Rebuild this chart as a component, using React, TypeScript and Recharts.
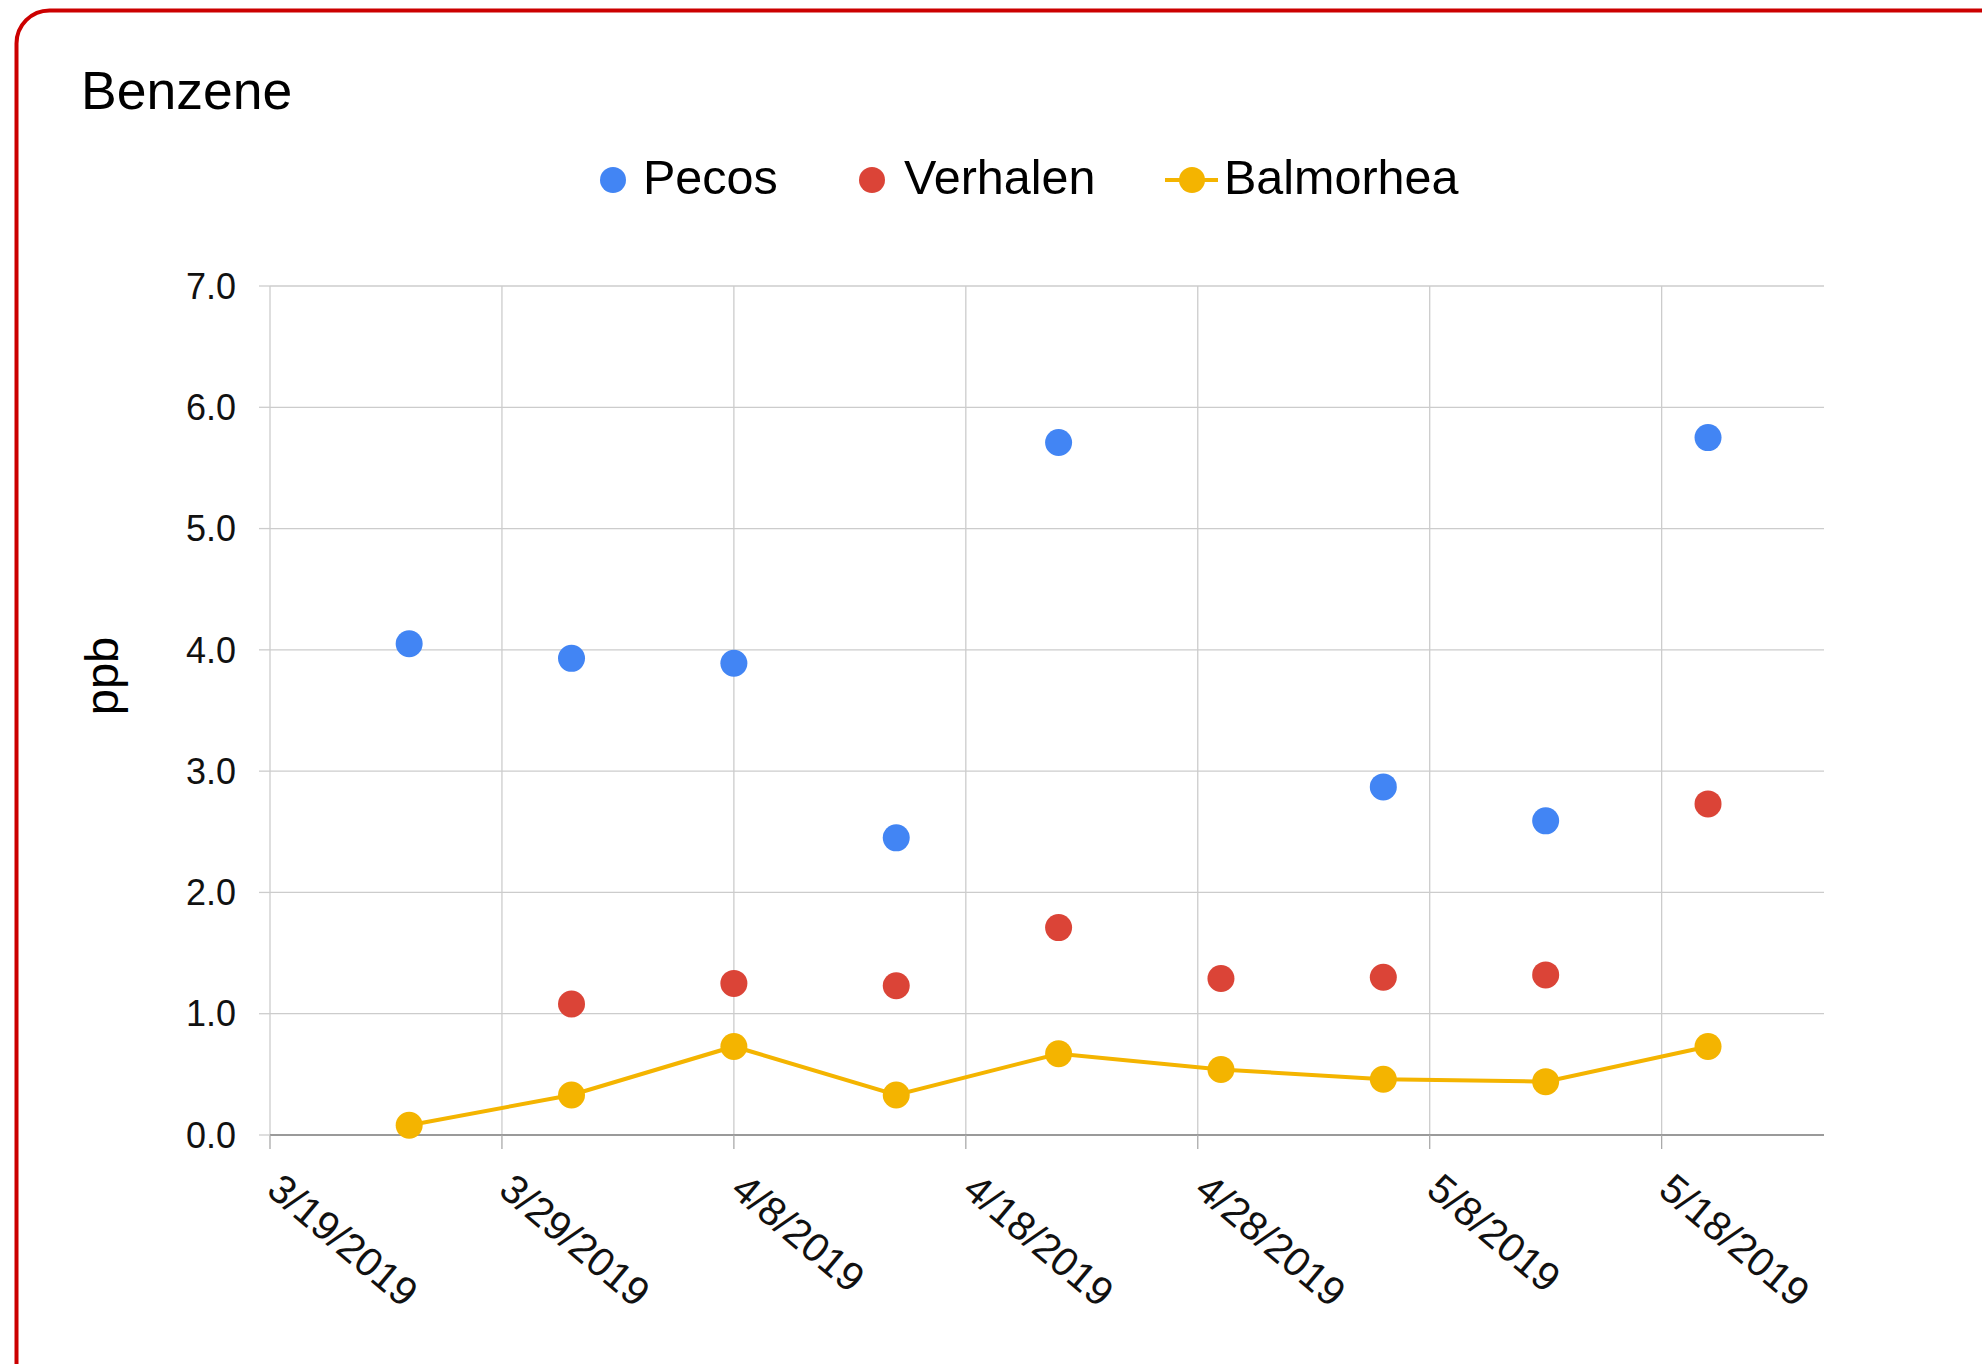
import React from 'react';
import { ComposedChart, Line, XAxis, YAxis, CartesianGrid, Legend } from 'recharts';

// ---- data ----
const sampleDates = ['3/25/2019', '4/1/2019', '4/8/2019', '4/15/2019', '4/22/2019', '4/29/2019', '5/6/2019', '5/13/2019', '5/20/2019'];
const pecos = [4.05, 3.93, 3.89, 2.45, 5.71, null, 2.87, 2.59, 5.75];
const verhalen = [null, 1.08, 1.25, 1.23, 1.71, 1.29, 1.3, 1.32, 2.73];
const balmorhea = [0.08, 0.33, 0.73, 0.33, 0.67, 0.54, 0.46, 0.44, 0.73];
const xTickDates = ['3/19/2019', '3/29/2019', '4/8/2019', '4/18/2019', '4/28/2019', '5/8/2019', '5/18/2019'];
const xDomainDates = ['3/19/2019', '5/25/2019'];
const yTicks = [0, 1, 2, 3, 4, 5, 6, 7];
const seriesNames = ['Pecos', 'Verhalen', 'Balmorhea'];
const seriesColors = ['#4285f4', '#db4437', '#f4b400'];

// ---- helpers ----
const DAY = 86400000;
const toMs = (s: string) => {
  const [m, d, y] = s.split('/').map(Number);
  return Date.UTC(y, m - 1, d);
};
const base = toMs(xDomainDates[0]);
const toDay = (s: string) => Math.round((toMs(s) - base) / DAY);
const fmtDay = (v: number) => {
  const dt = new Date(base + v * DAY);
  return `${dt.getUTCMonth() + 1}/${dt.getUTCDate()}/${dt.getUTCFullYear()}`;
};

const data = sampleDates.map((s, i) => ({
  t: toDay(s),
  pecos: pecos[i],
  verhalen: verhalen[i],
  balmorhea: balmorhea[i],
}));
const xTicks = xTickDates.map(toDay);
const xDomain = xDomainDates.map(toDay);

const W = 1982;
const H = 1364;
const FONT = '"Liberation Sans", Arial, sans-serif';
const MARGIN = { top: 286, right: 158, left: 210, bottom: 29 };
const Y_AXIS_W = 60;

const XTick = (props: any) => {
  const { x, y, payload } = props;
  const px = x - 5;
  const py = y + 44;
  return (
    <text
      x={px}
      y={py}
      transform={`rotate(40 ${px} ${py})`}
      textAnchor="start"
      fontSize={40.5}
      fontFamily={FONT}
      fill="#111"
    >
      {fmtDay(payload.value)}
    </text>
  );
};

const legendLayout = [
  { dot: 613, text: 643 },
  { dot: 872, text: 904 },
  { dot: 1192, text: 1224, line: [1165, 1218] },
];

const renderLegend = () => (
  <svg width={W} height={240} style={{ position: 'absolute', left: 0, top: 0, overflow: 'visible' }}>
    {seriesNames.map((name, i) => {
      const l = legendLayout[i];
      return (
        <g key={name}>
          {l.line ? (
            <line x1={l.line[0]} x2={l.line[1]} y1={180} y2={180} stroke={seriesColors[i]} strokeWidth={4} />
          ) : null}
          <circle cx={l.dot} cy={180} r={13} fill={seriesColors[i]} />
          <text x={l.text} y={194} fontSize={48.5} fontFamily={FONT} fill="#000">
            {name}
          </text>
        </g>
      );
    })}
  </svg>
);

const PpbLabel = (props: any) => {
  const vb = props.viewBox || {};
  const x = (vb.x ?? 210) + (vb.width ?? 60) - 152;
  const y = 676;
  return (
    <text x={x} y={y} transform={`rotate(-90 ${x} ${y})`} textAnchor="middle" fontSize={47} fontFamily={FONT} fill="#000">
      ppb
    </text>
  );
};

const verticalGen = (props: any) => {
  const xAxis = props && props.xAxis;
  if (xAxis && typeof xAxis.scale === 'function') {
    return xTicks.map((t) => xAxis.scale(t));
  }
  const left = MARGIN.left + Y_AXIS_W;
  const w = W - left - MARGIN.right;
  return xTicks.map((t) => left + ((t - xDomain[0]) / (xDomain[1] - xDomain[0])) * w);
};

export default function App() {
  return (
    <div style={{ position: 'absolute', left: 0, top: 0, width: W, height: H, overflow: 'hidden', background: '#fff' }}>
      <svg width={W} height={H} style={{ position: 'absolute', left: 0, top: 0 }}>
        <rect x={16.5} y={10.5} width={3000} height={3000} rx={33} ry={33} fill="none" stroke="#cc0000" strokeWidth={4} />
        <text x={81} y={109} fontSize={53.5} fontFamily={FONT} fill="#000">
          Benzene
        </text>
      </svg>
      <div style={{ position: 'absolute', left: 0, top: 0 }}>
        <ComposedChart width={W} height={H} data={data} margin={MARGIN}>
          <CartesianGrid stroke="#cccccc" strokeWidth={1.3} verticalCoordinatesGenerator={verticalGen} />
          <XAxis
            type="number"
            dataKey="t"
            domain={xDomain}
            ticks={xTicks}
            allowDataOverflow
            height={200}
            tickSize={14}
            tickMargin={0}
            tickLine={{ stroke: '#aaaaaa', strokeWidth: 1.3 }}
            axisLine={{ stroke: '#9a9a9a', strokeWidth: 1.8 }}
            tick={<XTick />}
            interval={0}
          />
          <YAxis
            type="number"
            domain={[0, 7]}
            ticks={yTicks}
            width={Y_AXIS_W}
            tickSize={11}
            tickMargin={23}
            tickLine={{ stroke: '#cccccc', strokeWidth: 1.3 }}
            axisLine={false}
            tickFormatter={(v: number) => v.toFixed(1)}
            tick={{ fontSize: 36, fontFamily: FONT, fill: '#111' }}
            interval={0}
            label={{ content: <PpbLabel /> }}
          />
          <Legend
            content={renderLegend}
            wrapperStyle={{ position: 'absolute', left: 0, top: 0, width: 0, height: 0, overflow: 'visible' }}
          />
          <Line
            dataKey="pecos"
            name={seriesNames[0]}
            stroke="none"
            dot={{ r: 13.5, fill: seriesColors[0], stroke: 'none' }}
            activeDot={false}
            isAnimationActive={false}
          />
          <Line
            dataKey="verhalen"
            name={seriesNames[1]}
            stroke="none"
            dot={{ r: 13.5, fill: seriesColors[1], stroke: 'none' }}
            activeDot={false}
            isAnimationActive={false}
          />
          <Line
            dataKey="balmorhea"
            name={seriesNames[2]}
            stroke={seriesColors[2]}
            strokeWidth={4}
            dot={{ r: 13.5, fill: seriesColors[2], stroke: 'none' }}
            activeDot={false}
            isAnimationActive={false}
          />
        </ComposedChart>
      </div>
    </div>
  );
}
